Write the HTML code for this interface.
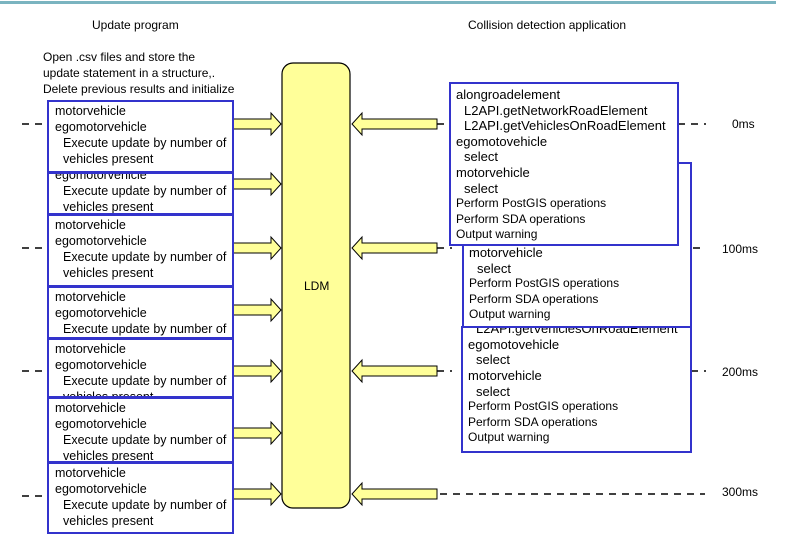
<!DOCTYPE html>
<html><head><meta charset="utf-8">
<style>
body{margin:0;width:811px;height:539px;position:relative;background:#fff;overflow:hidden;font-family:"Liberation Sans",Arial,sans-serif;color:#000}
.t{position:absolute;font-size:12px;white-space:nowrap}
.b{position:absolute;border:2px solid #3333cc;background:#fff;overflow:hidden;box-sizing:border-box}
.lb{left:47px;width:187px}
.lb .in{padding-top:1px;padding-left:6px;font-size:12.5px;line-height:16px}
.lb .c{font-size:12.5px;padding-left:8px}
.rb .in{padding-top:3px;padding-left:5px;font-size:13px;line-height:15.6px;white-space:nowrap}
.rb .i{padding-left:8px}
.rb .c{font-size:12px}
</style></head><body>
<div style="position:absolute;left:0;top:1px;width:776px;height:3px;background:#7ab4c0"></div>
<div class="t" style="left:92px;top:18px">Update program</div>
<div class="t" style="left:468px;top:18px">Collision detection application</div>
<div class="t" style="left:43px;top:49px;line-height:16px">Open .csv files and store the<br>update statement in a structure,.<br>Delete previous results and initialize</div>

<svg width="811" height="539" style="position:absolute;left:0;top:0">
<g stroke="#000" stroke-width="1.5" stroke-dasharray="7,6">
<line x1="22" y1="124" x2="47" y2="124"/><line x1="22" y1="248" x2="47" y2="248"/>
<line x1="22" y1="371" x2="47" y2="371"/><line x1="22" y1="496" x2="47" y2="496"/>
<line x1="437" y1="124" x2="452" y2="124"/><line x1="437" y1="248" x2="452" y2="248"/>
<line x1="437" y1="371" x2="452" y2="371"/><line x1="440" y1="494" x2="705" y2="494"/>
<line x1="678" y1="124" x2="706" y2="124"/><line x1="693" y1="248" x2="706" y2="248"/>
<line x1="691" y1="371" x2="706" y2="371"/>
</g>
<rect x="282" y="63" width="68" height="445" rx="11" fill="#ffff99" stroke="#000" stroke-width="1.2"/>
<g fill="#ffff99" stroke="#000" stroke-width="1">
<path d="M233 119h38v-6l10 11l-10 11v-6h-38z"/>
<path d="M233 179h38v-6l10 11l-10 11v-6h-38z"/>
<path d="M233 243h38v-6l10 11l-10 11v-6h-38z"/>
<path d="M233 305h38v-6l10 11l-10 11v-6h-38z"/>
<path d="M233 366h38v-6l10 11l-10 11v-6h-38z"/>
<path d="M233 428h38v-6l10 11l-10 11v-6h-38z"/>
<path d="M233 489h38v-6l10 11l-10 11v-6h-38z"/>
<path d="M437 119h-75v-6l-10 11l10 11v-6h75z"/>
<path d="M437 243h-75v-6l-10 11l10 11v-6h75z"/>
<path d="M437 366h-75v-6l-10 11l10 11v-6h75z"/>
<path d="M437 489h-75v-6l-10 11l10 11v-6h75z"/>
</g>
</svg>
<div class="t" style="left:304px;top:279px">LDM</div>
<div class="t" style="left:732px;top:117px">0ms</div>
<div class="t" style="left:722px;top:242px">100ms</div>
<div class="t" style="left:722px;top:365px">200ms</div>
<div class="t" style="left:722px;top:485px">300ms</div>

<div class="b lb" style="top:100px;height:73px"><div class="in">motorvehicle<br>egomotorvehicle<div class="c">Execute update by number of<br>vehicles present</div></div></div>
<div class="b lb" style="top:172px;height:43px"><div class="in" style="margin-top:-24px">motorvehicle<br>egomotorvehicle<div class="c">Execute update by number of<br>vehicles present</div></div></div>
<div class="b lb" style="top:214px;height:73px"><div class="in">motorvehicle<br>egomotorvehicle<div class="c">Execute update by number of<br>vehicles present</div></div></div>
<div class="b lb" style="top:286px;height:53px"><div class="in">motorvehicle<br>egomotorvehicle<div class="c">Execute update by number of<br>vehicles present</div></div></div>
<div class="b lb" style="top:338px;height:60px"><div class="in">motorvehicle<br>egomotorvehicle<div class="c">Execute update by number of<br>vehicles present</div></div></div>
<div class="b lb" style="top:397px;height:66px"><div class="in">motorvehicle<br>egomotorvehicle<div class="c">Execute update by number of<br>vehicles present</div></div></div>
<div class="b lb" style="top:462px;height:72px"><div class="in">motorvehicle<br>egomotorvehicle<div class="c">Execute update by number of<br>vehicles present</div></div></div>

<div class="b rb" style="left:461px;top:326px;width:231px;height:127px"><div class="in" style="margin-top:-41px">alongroadelement<div class="i">L2API.getNetworkRoadElement<br>L2API.getVehiclesOnRoadElement</div>egomotovehicle<div class="i">select</div>motorvehicle<div class="i">select</div><div class="c">Perform PostGIS operations<br>Perform SDA operations<br>Output warning</div></div></div>
<div class="b rb" style="left:462px;top:162px;width:230px;height:166px"><div class="in">alongroadelement<div class="i">L2API.getNetworkRoadElement<br>L2API.getVehiclesOnRoadElement</div>egomotovehicle<div class="i">select</div>motorvehicle<div class="i">select</div><div class="c">Perform PostGIS operations<br>Perform SDA operations<br>Output warning</div></div></div>
<div class="b rb" style="left:449px;top:82px;width:230px;height:164px"><div class="in">alongroadelement<div class="i">L2API.getNetworkRoadElement<br>L2API.getVehiclesOnRoadElement</div>egomotovehicle<div class="i">select</div>motorvehicle<div class="i">select</div><div class="c">Perform PostGIS operations<br>Perform SDA operations<br>Output warning</div></div></div>
</body></html>
